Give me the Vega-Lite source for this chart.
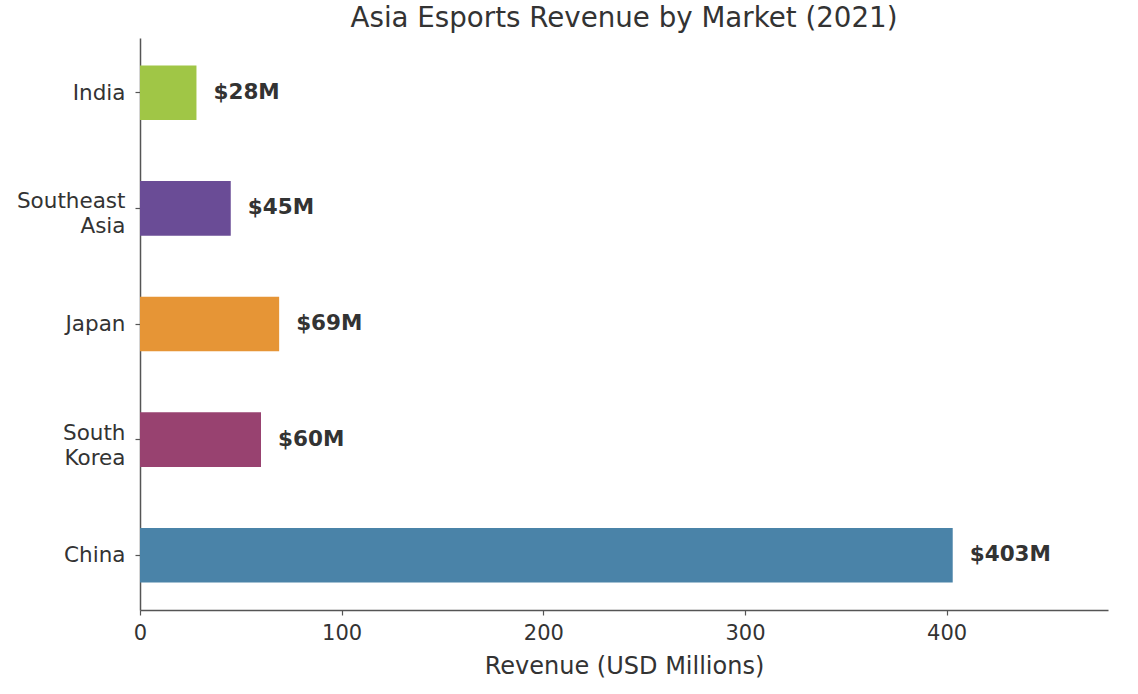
{
  "$schema": "https://vega.github.io/schema/vega-lite/v6.json",
  "title": {
    "text": "Asia Esports Revenue by Market (2021)",
    "fontSize": 27.7,
    "fontWeight": "normal",
    "font": "DejaVu Sans",
    "color": "#333333",
    "anchor": "middle",
    "offset": 5
  },
  "width": 968,
  "height": 572,
  "autosize": {"type": "none"},
  "padding": {"left": 140, "top": 38, "right": 30, "bottom": 84},
  "data": {
    "values": [
      {"market": "India", "revenue": 28, "label": "$28M"},
      {"market": "Southeast Asia", "revenue": 45, "label": "$45M"},
      {"market": "Japan", "revenue": 69, "label": "$69M"},
      {"market": "South Korea", "revenue": 60, "label": "$60M"},
      {"market": "China", "revenue": 403, "label": "$403M"}
    ]
  },
  "encoding": {
    "y": {
      "field": "market",
      "type": "nominal",
      "sort": ["India", "Southeast Asia", "Japan", "South Korea", "China"],
      "scale": {"paddingInner": 0.528, "paddingOuter": 0.238},
      "axis": {
        "title": null,
        "labelExpr": "datum.label == 'India' || datum.label == 'Japan' || datum.label == 'China' ? datum.label : split(datum.label, ' ')",
        "labelLineHeight": 25,
        "labelPadding": 10,
        "labelFontSize": 21.5,
        "labelOffset": {"condition": {"test": "indexof(datum.label, ' ') > 0", "value": -6}, "value": 1},
        "tickSize": 5
      }
    },
    "x": {
      "field": "revenue",
      "type": "quantitative",
      "scale": {"domain": [0, 480], "nice": false},
      "axis": {
        "title": "Revenue (USD Millions)",
        "values": [0, 100, 200, 300, 400],
        "grid": false,
        "labelFlush": false,
        "tickSize": 5,
        "labelPadding": 7,
        "titlePadding": 11
      }
    }
  },
  "layer": [
    {
      "mark": {"type": "bar"},
      "encoding": {
        "color": {
          "field": "market",
          "type": "nominal",
          "scale": {
            "domain": ["India", "Southeast Asia", "Japan", "South Korea", "China"],
            "range": ["#a0c646", "#6a4c96", "#e69536", "#984270", "#4a83a8"]
          },
          "legend": null
        }
      }
    },
    {
      "mark": {
        "type": "text",
        "align": "left",
        "baseline": "middle",
        "dx": 17,
        "dy": 0,
        "font": "DejaVu Sans",
        "fontSize": 21.5,
        "fontWeight": "bold",
        "color": "#333333"
      },
      "encoding": {
        "text": {"field": "label"}
      }
    }
  ],
  "config": {
    "view": {"stroke": null},
    "font": "DejaVu Sans",
    "axis": {
      "labelFont": "DejaVu Sans",
      "labelFontSize": 21,
      "labelColor": "#333333",
      "titleFont": "DejaVu Sans",
      "titleFontSize": 24,
      "titleFontWeight": "normal",
      "titleColor": "#333333",
      "domainColor": "#555555",
      "domainWidth": 1.5,
      "tickColor": "#555555",
      "tickWidth": 1.2
    }
  }
}
